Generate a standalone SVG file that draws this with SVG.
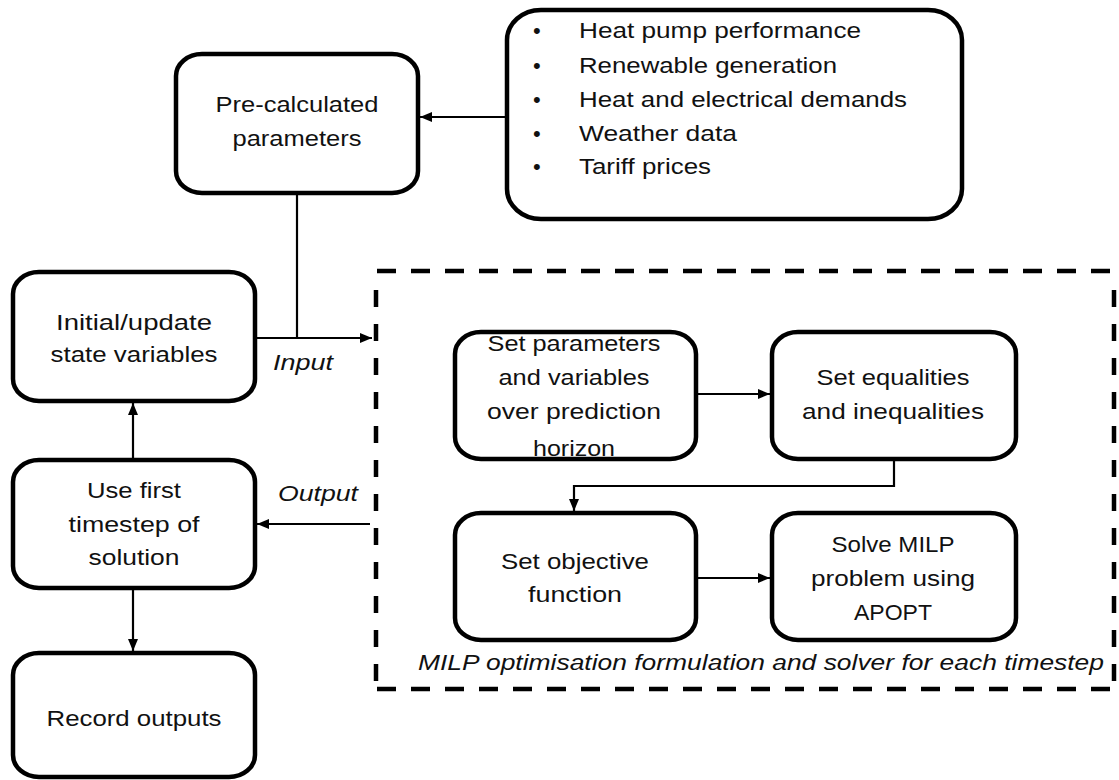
<svg xmlns="http://www.w3.org/2000/svg" width="1119" height="780" viewBox="0 0 1119 780">
  <style>
    .box { fill: #fff; stroke: #000; stroke-width: 4.5; }
    .lbl { font-family: "Liberation Sans", Arial, sans-serif; font-size: 22px; fill: #111; text-anchor: middle; }
    .lst { font-family: "Liberation Sans", Arial, sans-serif; font-size: 22px; fill: #111; }
    .it { font-family: "Liberation Sans", Arial, sans-serif; font-size: 22px; font-style: italic; fill: #111; }
    .wire { fill: none; stroke: #000; stroke-width: 2.2; }
    .dash-h { fill: none; stroke: #000; stroke-width: 4.5; stroke-dasharray: 19 15; }
    .dash-v { fill: none; stroke: #000; stroke-width: 4.5; stroke-dasharray: 17 17; }
  </style>
  <defs>
    <marker id="arrow" markerUnits="userSpaceOnUse" markerWidth="13" markerHeight="11" refX="12" refY="5" orient="auto">
      <path d="M0,0 L12,5 L0,10 z" fill="#000"/>
    </marker>
  </defs>
  <rect width="1119" height="780" fill="#fff"/>

  <!-- dashed solver frame, drawn edge by edge so each side keeps its own dash rhythm -->
  <g id="solver-frame">
    <path class="dash-h" d="M377,271 H1115"/>
    <path class="dash-h" d="M377,689 H1115"/>
    <path class="dash-v" d="M376,290 V689"/>
    <path class="dash-v" d="M1114,290 V689"/>
    <text class="it" x="418" y="670" textLength="686" lengthAdjust="spacingAndGlyphs">MILP optimisation formulation and solver for each timestep</text>
  </g>

  <g id="inputs-list">
    <rect class="box" x="507" y="10" width="455" height="209" rx="34" ry="30"/>
    <g class="lst">
      <text x="533" y="38">•</text><text x="579" y="38" textLength="282" lengthAdjust="spacingAndGlyphs">Heat pump performance</text>
      <text x="533" y="73">•</text><text x="579" y="73" textLength="258" lengthAdjust="spacingAndGlyphs">Renewable generation</text>
      <text x="533" y="107">•</text><text x="579" y="107" textLength="328" lengthAdjust="spacingAndGlyphs">Heat and electrical demands</text>
      <text x="533" y="141">•</text><text x="579" y="141" textLength="158" lengthAdjust="spacingAndGlyphs">Weather data</text>
      <text x="533" y="174">•</text><text x="579" y="174" textLength="132" lengthAdjust="spacingAndGlyphs">Tariff prices</text>
    </g>
  </g>

  <g id="pre-calculated">
    <rect class="box" x="176" y="54" width="242" height="139" rx="26" ry="22"/>
    <text class="lbl" x="297" y="112" textLength="163" lengthAdjust="spacingAndGlyphs">Pre-calculated</text>
    <text class="lbl" x="297" y="146" textLength="129" lengthAdjust="spacingAndGlyphs">parameters</text>
  </g>

  <g id="state-variables">
    <rect class="box" x="13" y="272" width="242" height="129" rx="26" ry="22"/>
    <text class="lbl" x="134" y="330" textLength="156" lengthAdjust="spacingAndGlyphs">Initial/update</text>
    <text class="lbl" x="134" y="362" textLength="167" lengthAdjust="spacingAndGlyphs">state variables</text>
  </g>

  <g id="first-timestep">
    <rect class="box" x="13" y="460" width="242" height="128" rx="26" ry="22"/>
    <text class="lbl" x="134" y="498" textLength="94" lengthAdjust="spacingAndGlyphs">Use first</text>
    <text class="lbl" x="134" y="532" textLength="131" lengthAdjust="spacingAndGlyphs">timestep of</text>
    <text class="lbl" x="134" y="565" textLength="91" lengthAdjust="spacingAndGlyphs">solution</text>
  </g>

  <g id="record-outputs">
    <rect class="box" x="13" y="653" width="242" height="124" rx="26" ry="22"/>
    <text class="lbl" x="134" y="726" textLength="175" lengthAdjust="spacingAndGlyphs">Record outputs</text>
  </g>

  <g id="set-parameters">
    <rect class="box" x="455" y="332" width="241" height="127" rx="26" ry="22"/>
    <text class="lbl" x="574" y="351" textLength="173" lengthAdjust="spacingAndGlyphs">Set parameters</text>
    <text class="lbl" x="574" y="385" textLength="151" lengthAdjust="spacingAndGlyphs">and variables</text>
    <text class="lbl" x="574" y="419" textLength="174" lengthAdjust="spacingAndGlyphs">over prediction</text>
    <text class="lbl" x="574" y="456" textLength="82" lengthAdjust="spacingAndGlyphs">horizon</text>
  </g>

  <g id="set-equalities">
    <rect class="box" x="772" y="332" width="244" height="127" rx="26" ry="22"/>
    <text class="lbl" x="893" y="385" textLength="153" lengthAdjust="spacingAndGlyphs">Set equalities</text>
    <text class="lbl" x="893" y="419" textLength="182" lengthAdjust="spacingAndGlyphs">and inequalities</text>
  </g>

  <g id="set-objective">
    <rect class="box" x="455" y="513" width="241" height="127" rx="26" ry="22"/>
    <text class="lbl" x="575" y="569" textLength="148" lengthAdjust="spacingAndGlyphs">Set objective</text>
    <text class="lbl" x="575" y="602" textLength="94" lengthAdjust="spacingAndGlyphs">function</text>
  </g>

  <g id="solve-milp">
    <rect class="box" x="772" y="513" width="244" height="127" rx="26" ry="22"/>
    <text class="lbl" x="893" y="552" textLength="123" lengthAdjust="spacingAndGlyphs">Solve MILP</text>
    <text class="lbl" x="893" y="586" textLength="164" lengthAdjust="spacingAndGlyphs">problem using</text>
    <text class="lbl" x="893" y="620" textLength="78" lengthAdjust="spacingAndGlyphs">APOPT</text>
  </g>

  <g id="connectors">
    <path class="wire" d="M507,117 H420" marker-end="url(#arrow)"/>
    <path class="wire" d="M297,193 V338"/>
    <path class="wire" d="M255,338 H372" marker-end="url(#arrow)"/>
    <path class="wire" d="M370,524 H257" marker-end="url(#arrow)"/>
    <path class="wire" d="M133,460 V403" marker-end="url(#arrow)"/>
    <path class="wire" d="M133,588 V651" marker-end="url(#arrow)"/>
    <path class="wire" d="M696,394 H770" marker-end="url(#arrow)"/>
    <path class="wire" d="M894,459 V486 H574 V511" marker-end="url(#arrow)"/>
    <path class="wire" d="M696,578 H770" marker-end="url(#arrow)"/>
    <text class="it" x="273" y="370" textLength="60" lengthAdjust="spacingAndGlyphs">Input</text>
    <text class="it" x="278" y="501" textLength="80" lengthAdjust="spacingAndGlyphs">Output</text>
  </g>
</svg>
